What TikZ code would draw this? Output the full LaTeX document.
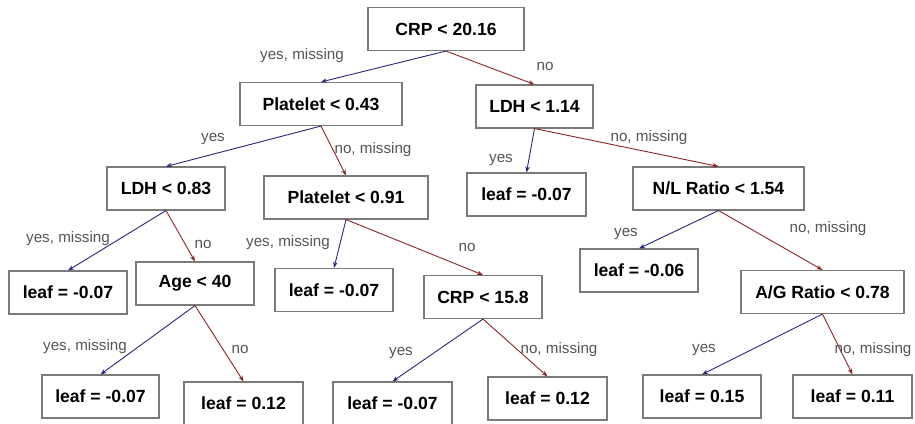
\documentclass[tikz,border=0pt]{standalone}
\usepackage{fontspec}
\setmainfont{Liberation Sans}
\usetikzlibrary{arrows.meta}
\definecolor{yesc}{HTML}{27277A}
\definecolor{noc}{HTML}{8B2525}
\definecolor{boxc}{HTML}{7A7A7A}
\definecolor{labc}{HTML}{555555}
\tikzset{
  box/.style={draw=boxc, line width=1.1pt, minimum height=43pt, inner sep=0pt, font=\fontsize{17.6}{20}\selectfont\bfseries, text=black},
  yesedge/.style={draw=yesc, line width=0.9pt, -{Stealth[length=6pt,width=4.5pt]}},
  noedge/.style={draw=noc, line width=0.9pt, -{Stealth[length=6pt,width=4.5pt]}},
  lab/.style={font=\fontsize{15.2}{17}\selectfont, text=labc, inner sep=0pt}
}
\begin{document}
\begin{tikzpicture}[x=1pt,y=-1pt]
\clip (0,0) rectangle (915,423);
\fill[white] (0,0) rectangle (915,423);
\node[box, minimum width=156pt] (n1) at (446,29) {CRP < 20.16};
\node[box, minimum width=162pt] (n2) at (321,104) {Platelet < 0.43};
\node[box, minimum width=117pt] (n3) at (534.5,106.5) {LDH < 1.14};
\node[box, minimum width=118pt] (n4) at (166,188.5) {LDH < 0.83};
\node[box, minimum width=164pt] (n5) at (346,197.5) {Platelet < 0.91};
\node[box, minimum width=119pt] (n6) at (526.5,194.5) {leaf = -0.07};
\node[box, minimum width=171pt] (n7) at (718.5,188.5) {N/L Ratio < 1.54};
\node[box, minimum width=118pt] (n8) at (68,292.5) {leaf = -0.07};
\node[box, minimum width=118pt] (n9) at (195,283.5) {Age < 40};
\node[box, minimum width=118pt] (n10) at (334,290) {leaf = -0.07};
\node[box, minimum width=118pt] (n11) at (483,297) {CRP < 15.8};
\node[box, minimum width=118pt] (n12) at (639,270.5) {leaf = -0.06};
\node[box, minimum width=163pt] (n13) at (822.5,292) {A/G Ratio < 0.78};
\node[box, minimum width=117pt] (n14) at (100.5,396.5) {leaf = -0.07};
\node[box, minimum width=119pt] (n15) at (243.5,403.5) {leaf = 0.12};
\node[box, minimum width=119pt] (n16) at (392.5,403.5) {leaf = -0.07};
\node[box, minimum width=119pt] (n17) at (547.5,398.5) {leaf = 0.12};
\node[box, minimum width=118pt] (n18) at (702,396.5) {leaf = 0.15};
\node[box, minimum width=119pt] (n19) at (852.5,396.5) {leaf = 0.11};

\draw[yesedge] (n1.south) -- (n2.north);
\draw[noedge] (n1.south) -- (n3.north);
\draw[yesedge] (n2.south) -- (n4.north);
\draw[noedge] (n2.south) -- (n5.north);
\draw[yesedge] (n3.south) -- (n6.north);
\draw[noedge] (n3.south) -- (n7.north);
\draw[yesedge] (n4.south) -- (n8.north);
\draw[noedge] (n4.south) -- (n9.north);
\draw[yesedge] (n5.south) -- (n10.north);
\draw[noedge] (n5.south) -- (n11.north);
\draw[yesedge] (n7.south) -- (n12.north);
\draw[noedge] (n7.south) -- (n13.north);
\draw[yesedge] (n9.south) -- (n14.north);
\draw[noedge] (n9.south) -- (n15.north);
\draw[yesedge] (n11.south) -- (n16.north);
\draw[noedge] (n11.south) -- (n17.north);
\draw[yesedge] (n13.south) -- (n18.north);
\draw[noedge] (n13.south) -- (n19.north);

\node[lab] (l1) at (302,56) {yes, missing};
\node[lab] (l2) at (545,66) {no};
\node[lab] (l3) at (213,139) {yes};
\node[lab] (l4) at (373,150) {no, missing};
\node[lab] (l5) at (501,160) {yes};
\node[lab] (l6) at (649,138) {no, missing};
\node[lab] (l7) at (68,239) {yes, missing};
\node[lab] (l8) at (203,244) {no};
\node[lab] (l9) at (288,243) {yes, missing};
\node[lab] (l10) at (467,247) {no};
\node[lab] (l11) at (85,347) {yes, missing};
\node[lab] (l12) at (240,349) {no};
\node[lab] (l13) at (401,353) {yes};
\node[lab] (l14) at (559,350) {no, missing};
\node[lab] (l15) at (626,234) {yes};
\node[lab] (l16) at (828,229) {no, missing};
\node[lab] (l17) at (704,350) {yes};
\node[lab] (l18) at (873,350) {no, missing};
\end{tikzpicture}
\end{document}
